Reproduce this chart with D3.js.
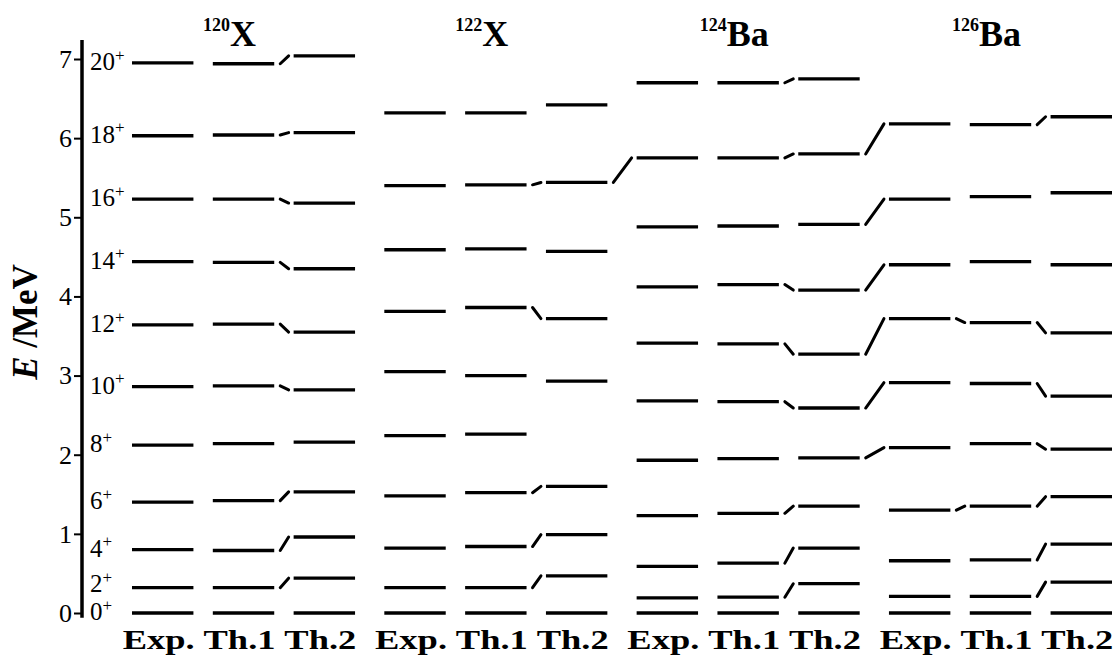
<!DOCTYPE html>
<html><head><meta charset="utf-8">
<script src="https://cdn.jsdelivr.net/npm/d3@7"></script>
<style>body{margin:0;background:#fff}svg{display:block}</style>
</head><body><svg id="chart" width="1119" height="655"></svg>
<script>
// ---------- data ----------
const nuclideMass = ["120", "122", "124", "126"];
const nuclideSymbol = ["X", "X", "Ba", "Ba"];
const columnNames = ["Exp.", "Th.1", "Th.2"];
const spinLabels = ["0", "2", "4", "6", "8", "10", "12", "14", "16", "18", "20"];
const energyTicks = [0, 1, 2, 3, 4, 5, 6, 7];

// level energies (MeV), index = spin/2
const e120Exp = [0, 0.32, 0.80, 1.40, 2.12, 2.86, 3.64, 4.44, 5.23, 6.03, 6.95];
const e120Th1 = [0, 0.32, 0.79, 1.42, 2.14, 2.87, 3.65, 4.43, 5.23, 6.04, 6.94];
const e120Th2 = [0, 0.44, 0.96, 1.53, 2.16, 2.82, 3.55, 4.35, 5.18, 6.07, 7.04];

const e122Exp = [0, 0.32, 0.82, 1.48, 2.24, 3.05, 3.81, 4.59, 5.40, 6.32];
const e122Th1 = [0, 0.32, 0.84, 1.52, 2.26, 3.00, 3.86, 4.60, 5.41, 6.32];
const e122Th2 = [0, 0.47, 0.99, 1.60, null, 2.93, 3.72, 4.57, 5.44, 6.42];

const e124Exp = [0, 0.19, 0.59, 1.23, 1.93, 2.68, 3.41, 4.12, 4.88, 5.75, 6.70];
const e124Th1 = [0, 0.20, 0.63, 1.26, 1.95, 2.67, 3.40, 4.15, 4.89, 5.75, 6.70];
const e124Th2 = [0, 0.37, 0.82, 1.35, 1.96, 2.59, 3.27, 4.08, 4.91, 5.80, 6.75];

const e126Exp = [0, 0.21, 0.66, 1.30, 2.09, 2.91, 3.72, 4.40, 5.23, 6.18];
const e126Th1 = [0, 0.21, 0.67, 1.35, 2.14, 2.90, 3.67, 4.44, 5.26, 6.17];
const e126Th2 = [0, 0.39, 0.87, 1.47, 2.07, 2.74, 3.54, 4.40, 5.31, 6.27];

// connecting dashes: [group, column, level] -> [group, column, level]
const connectors = [
  [0,1,1, 0,2,1], [0,1,2, 0,2,2], [0,1,3, 0,2,3], [0,1,5, 0,2,5], [0,1,6, 0,2,6],
  [0,1,7, 0,2,7], [0,1,8, 0,2,8], [0,1,9, 0,2,9], [0,1,10, 0,2,10],
  [1,1,1, 1,2,1], [1,1,2, 1,2,2], [1,1,3, 1,2,3], [1,1,6, 1,2,6], [1,1,8, 1,2,8],
  [1,2,8, 2,0,9],
  [2,1,1, 2,2,1], [2,1,2, 2,2,2], [2,1,3, 2,2,3], [2,1,5, 2,2,5], [2,1,6, 2,2,6],
  [2,1,7, 2,2,7], [2,1,9, 2,2,9], [2,1,10, 2,2,10],
  [2,2,4, 3,0,4], [2,2,5, 3,0,5], [2,2,6, 3,0,6], [2,2,7, 3,0,7], [2,2,8, 3,0,8], [2,2,9, 3,0,9],
  [3,0,3, 3,1,3], [3,0,6, 3,1,6],
  [3,1,1, 3,2,1], [3,1,2, 3,2,2], [3,1,3, 3,2,3], [3,1,4, 3,2,4], [3,1,5, 3,2,5],
  [3,1,6, 3,2,6], [3,1,9, 3,2,9]
];

const energies = [
  [e120Exp, e120Th1, e120Th2],
  [e122Exp, e122Th1, e122Th2],
  [e124Exp, e124Th1, e124Th2],
  [e126Exp, e126Th1, e126Th2]
];

// ---------- drawing ----------
const svg = d3.select("#chart");
const serif = "'Liberation Serif','Times New Roman',serif";
const axisX = 82;

const y = d3.scaleLinear().domain([0, 7]).range([613, 59]);
const xGroup = d3.scaleBand().domain(d3.range(4)).range([132, 1112]).paddingInner(0.116);
const xCol = d3.scaleBand().domain([0, 1, 2]).range([0, xGroup.bandwidth()]).paddingInner(0.24);
const colStart = (g, c) => xGroup(g) + xCol(c);
const colEnd = (g, c) => xGroup(g) + xCol(c) + xCol.bandwidth();
const colMid = (g, c) => xGroup(g) + xCol(c) + xCol.bandwidth() / 2;

// level lines
const levels = [];
energies.forEach((grp, g) => grp.forEach((arr, c) => arr.forEach((v, i) => {
  if (v !== null) levels.push({g, c, i, v});
})));

svg.append("g").selectAll("line").data(levels).join("line")
  .attr("x1", d => colStart(d.g, d.c))
  .attr("x2", d => colEnd(d.g, d.c))
  .attr("y1", d => y(d.v))
  .attr("y2", d => y(d.v))
  .attr("stroke", "#000").attr("stroke-width", 3.3);

// connectors
svg.append("g").selectAll("line").data(connectors).join("line")
  .attr("x1", d => colEnd(d[0], d[1]) + 6)
  .attr("y1", d => y(energies[d[0]][d[1]][d[2]]))
  .attr("x2", d => colStart(d[3], d[4]) - 5)
  .attr("y2", d => y(energies[d[3]][d[4]][d[5]]))
  .attr("stroke", "#000").attr("stroke-width", 3).attr("stroke-linecap", "round");

// axis
const axisG = svg.append("g").attr("transform", `translate(${axisX},0)`)
  .call(d3.axisLeft(y).tickValues(energyTicks).tickSize(8).tickPadding(2).tickFormat(d3.format("d")));
axisG.select(".domain").remove();
axisG.selectAll(".tick line").attr("stroke", "#000").attr("stroke-width", 2);
axisG.selectAll(".tick text").attr("fill", "#000").attr("font-family", serif).attr("font-size", 26);
svg.append("line")
  .attr("x1", axisX).attr("x2", axisX)
  .attr("y1", y(7.24)).attr("y2", y(-0.06))
  .attr("stroke", "#000").attr("stroke-width", 3.5);

// axis title
const at = svg.append("text")
  .attr("transform", `translate(37,${(y(0) + y(7)) / 2 - 14}) rotate(-90)`)
  .attr("text-anchor", "middle").attr("font-family", serif)
  .attr("font-weight", "bold").attr("font-size", 35).attr("fill", "#000");
at.append("tspan").attr("font-style", "italic").text("E");
at.append("tspan").text(" /MeV");

// spin labels next to the first Exp column (pushed up where they would collide)
const labelSize = 25, labelGap = 28;
const labelBase = [];
spinLabels.forEach((s, i) => {
  let b = y(e120Exp[i]) + 7;
  if (i > 0) b = Math.min(b, labelBase[i - 1] - labelGap);
  labelBase.push(b);
});
const sl = svg.append("g").selectAll("text").data(spinLabels).join("text")
  .attr("x", axisX + 8)
  .attr("y", (d, i) => labelBase[i])
  .attr("font-family", serif).attr("font-size", labelSize).attr("fill", "#000");
sl.append("tspan").text(d => d);
sl.append("tspan").attr("font-size", 17).attr("dy", "-0.55em").text("+");

// nuclide titles
const tt = svg.append("g").selectAll("text").data(nuclideMass).join("text")
  .attr("x", (d, g) => colMid(g, 1) - 14)
  .attr("y", 46)
  .attr("text-anchor", "middle").attr("font-family", serif).attr("font-weight", "bold").attr("fill", "#000");
tt.append("tspan").attr("font-size", 18).attr("dy", -15).text(d => d);
tt.append("tspan").attr("font-size", 36).attr("dy", 15).text((d, g) => nuclideSymbol[g]);

// column labels
const colLabels = [];
nuclideMass.forEach((m, g) => columnNames.forEach((c, ci) => colLabels.push({g, ci, c})));
svg.append("g").selectAll("text").data(colLabels).join("text")
  .attr("x", d => colMid(d.g, d.ci) - 4)
  .attr("y", 649)
  .attr("text-anchor", "middle")
  .attr("textLength", 72).attr("lengthAdjust", "spacingAndGlyphs")
  .attr("font-family", serif).attr("font-weight", "bold").attr("font-size", 28).attr("fill", "#000")
  .text(d => d.c);
</script>
</body></html>
